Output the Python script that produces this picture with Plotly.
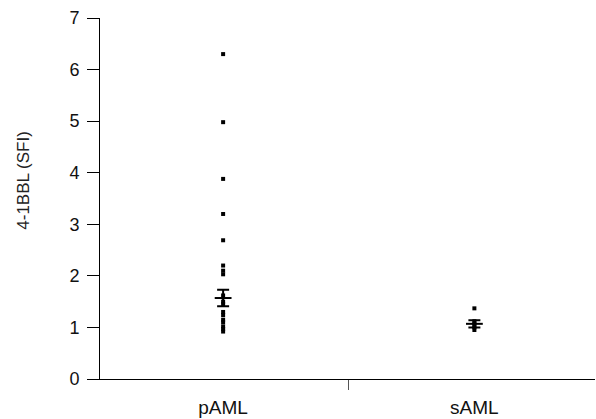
import plotly.graph_objects as go

groups = ["pAML", "sAML"]
group_pos = [0, 1]
pAML_values = [6.3, 4.98, 3.88, 3.2, 2.69, 2.2, 2.1, 2.03, 1.62, 1.5, 1.45, 1.3, 1.24, 1.15, 1.1, 1.02, 0.97, 0.92]
sAML_values = [1.37, 1.12, 1.08, 1.03, 1.0, 0.95]
means = [1.57, 1.07]
sems = [0.16, 0.07]
y_ticks = [0, 1, 2, 3, 4, 5, 6, 7]
y_title = "4-1BBL (SFI)"

fig = go.Figure()
for pos, vals in zip(group_pos, [pAML_values, sAML_values]):
    fig.add_trace(go.Scatter(
        x=[pos] * len(vals), y=vals, mode="markers",
        marker=dict(symbol="square", size=4, color="black"),
        showlegend=False, hoverinfo="y"))

fig.add_trace(go.Scatter(
    x=group_pos, y=means, mode="markers",
    marker=dict(symbol="line-ew", size=12, line=dict(width=2, color="black")),
    error_y=dict(type="data", array=sems, visible=True, width=6, thickness=2, color="black"),
    showlegend=False))

fig.add_annotation(
    text=y_title, textangle=-90, xref="paper", yref="paper",
    x=-0.155, y=0.55, xanchor="center", yanchor="middle", showarrow=False,
    font=dict(size=17, color="#222"))

fig.update_layout(
    width=596, height=419,
    margin=dict(l=100, r=1, t=18, b=40),
    plot_bgcolor="white", paper_bgcolor="white",
    font=dict(family="Liberation Sans, Arial, sans-serif", color="black"),
    xaxis=dict(
        range=[-0.49, 1.48], tickmode="array", tickvals=group_pos, ticktext=groups,
        ticks="", showline=True, linecolor="black", linewidth=1, showgrid=False,
        zeroline=False, tickfont=dict(size=19, color="#111"), ticklabelstandoff=11,
        automargin=False,
        minor=dict(tickmode="array", tickvals=[0.5], ticks="outside", ticklen=10,
                   tickcolor="#555", tickwidth=1),
    ),
    yaxis=dict(
        range=[0, 7], tickmode="array", tickvals=y_ticks, ticks="outside",
        ticklen=12, tickcolor="black", showline=True, linecolor="black",
        linewidth=1, showgrid=False, zeroline=False, automargin=False,
        tickfont=dict(size=18, color="#111"), ticklabelstandoff=4,
    ),
)

fig.write_html("out.html")
